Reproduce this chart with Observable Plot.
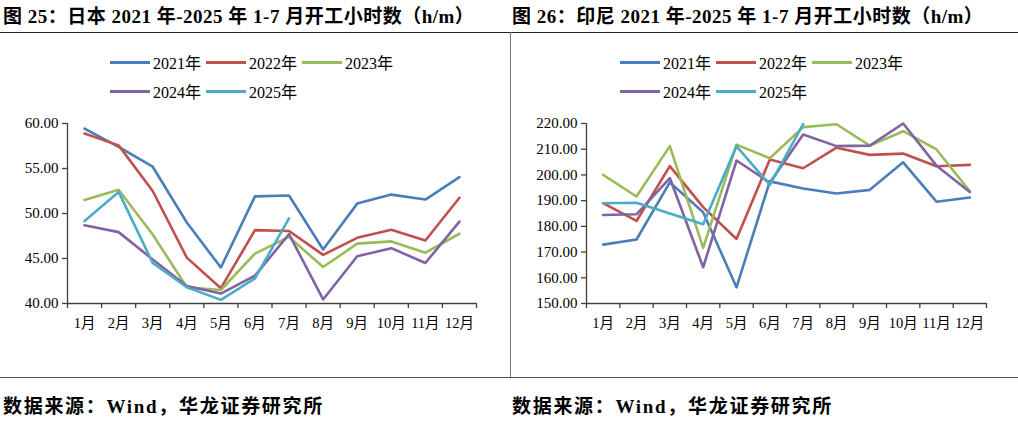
<!DOCTYPE html>
<html>
<head>
<meta charset="utf-8">
<script src="https://cdn.jsdelivr.net/npm/d3@7"></script>
<script src="https://cdn.jsdelivr.net/npm/@observablehq/plot@0.6"></script>
<style>
  html, body { margin: 0; padding: 0; background: #fff; }
  #wrap { position: relative; width: 1018px; height: 425px; overflow: hidden; background: #fff;
    font-family: "Liberation Serif", "Noto Sans CJK SC", serif; color: #000; }
  .title, .src { position: absolute; font-weight: bold; white-space: nowrap; }
  .title { top: 1px; font-size: 19px; letter-spacing: 0.5px; }
  .src { top: 391px; font-size: 19px; letter-spacing: 1.7px; }
  .hline { position: absolute; height: 0; border-top: 1px solid #222; }
  .vline { position: absolute; width: 0; border-left: 1px solid #777; }
  .plot { position: absolute; top: 33px; }
  .leg { position: absolute; font-size: 16px; white-space: nowrap; display: flex; align-items: center; }
  .leg span.sw { display: inline-block; width: 40px; height: 3px; margin-right: 3px; }
</style>
</head>
<body>
<div id="wrap"></div>
<script>
const months = ["1月","2月","3月","4月","5月","6月","7月","8月","9月","10月","11月","12月"];
const years = ["2021年","2022年","2023年","2024年","2025年"];
const colors = ["#4A7EBB","#C0504D","#9BBB59","#8064A2","#4BACC6"];

// 日本 (h/m)
const jp2021 = [59.44,57.4,55.2,49.0,44.0,51.9,52.0,46.0,51.1,52.1,51.55,54.05];
const jp2022 = [58.88,57.57,52.5,45.1,41.7,48.15,48.05,45.4,47.3,48.2,47.0,51.75];
const jp2023 = [51.5,52.63,47.67,41.8,41.5,45.55,47.4,44.05,46.65,46.9,45.65,47.75];
const jp2024 = [48.7,47.93,44.9,41.95,41.1,43.1,47.7,40.45,45.25,46.15,44.5,49.1];
const jp2025 = [49.16,52.4,44.5,41.8,40.4,42.8,49.45];

// 印尼 (h/m)
const id2021 = [172.9,174.9,197.1,185.5,156.3,197.5,194.7,192.8,194.2,204.9,189.6,191.2];
const id2022 = [189.0,182.1,203.4,187.5,175.1,206.0,202.6,210.6,207.8,208.3,203.4,203.9];
const id2023 = [200.0,191.6,211.2,171.6,211.8,206.5,218.6,219.7,211.4,217.0,209.9,193.6];
const id2024 = [184.4,184.7,198.8,164.1,205.6,197.0,215.7,211.2,211.4,220.0,203.6,193.4];
const id2025 = [189.0,189.2,185.0,180.8,211.2,196.1,219.8];

const jpTicks = [40,45,50,55,60];
const idTicks = [150,160,170,180,190,200,210,220];

function rows(series) {
  const out = [];
  series.forEach((vals, k) => vals.forEach((v, i) => out.push({year: years[k], i, v})));
  return out;
}

const font = '"Liberation Serif", "Noto Sans CJK SC", serif';

function chart({series, yTicks, width, marginLeft, marginRight}) {
  const data = rows(series);
  const centers = months.map((m, i) => i + 0.5);
  const bounds = d3.range(months.length + 1);
  return Plot.plot({
    width, height: 345,
    marginLeft, marginRight, marginTop: 90, marginBottom: 75,
    style: {fontFamily: font, fontSize: "15px", color: "#000", background: "transparent", overflow: "visible"},
    x: {type: "linear", domain: [0, months.length], axis: null},
    y: {domain: [yTicks[0], yTicks[yTicks.length - 1]], axis: null},
    color: {domain: years, range: colors},
    marks: [
      Plot.ruleX([0], {stroke: "#404040", strokeWidth: 1.3}),
      Plot.ruleY([yTicks[0]], {stroke: "#404040", strokeWidth: 1.3}),
      Plot.axisY({ticks: yTicks, tickSize: 5, tickPadding: 4, tickFormat: d3.format(".2f"), label: null, stroke: "#404040", strokeWidth: 1.3, fontSize: 15, letterSpacing: "1.6px"}),
      Plot.axisX({ticks: bounds, tickSize: 5, tickFormat: () => "", label: null, stroke: "#404040", strokeWidth: 1.3}),
      Plot.axisX({ticks: centers, tickSize: 0, tickPadding: 14, tickFormat: d => months[Math.floor(d)], label: null, fontSize: 14.5}),
      Plot.line(data, {x: d => d.i + 0.5, y: "v", z: "year", stroke: "year", strokeWidth: 2.6, strokeLinejoin: "round"})
    ]
  });
}

const wrap = document.getElementById("wrap");
function add(html) { wrap.insertAdjacentHTML("beforeend", html); }

add('<div class="title" style="left:3px">图 25：日本 2021 年-2025 年 1-7 月开工小时数（h/m）</div>');
add('<div class="title" style="left:512px">图 26：印尼 2021 年-2025 年 1-7 月开工小时数（h/m）</div>');
add('<div class="hline" style="left:0;top:32px;width:1018px"></div>');
add('<div class="vline" style="left:510px;top:32px;height:346px"></div>');
add('<div class="hline" style="left:0;top:377px;width:1018px;border-top-color:#555"></div>');
add('<div class="src" style="left:3px">数据来源：Wind，华龙证券研究所</div>');
add('<div class="src" style="left:512px">数据来源：Wind，华龙证券研究所</div>');

const left = chart({series: [jp2021, jp2022, jp2023, jp2024, jp2025], yTicks: jpTicks, width: 505, marginLeft: 67, marginRight: 29});
left.classList.add("plot"); left.style.left = "0px";
wrap.appendChild(left);
const right = chart({series: [id2021, id2022, id2023, id2024, id2025], yTicks: idTicks, width: 508, marginLeft: 76, marginRight: 32});
right.classList.add("plot"); right.style.left = "510px";
wrap.appendChild(right);

function legend(x0) {
  const pos = [[110, 60], [206, 60], [302, 60], [110, 89], [206, 89]];
  years.forEach((y, k) => {
    add(`<div class="leg" style="left:${x0 + pos[k][0]}px;top:${pos[k][1] - 10}px"><span class="sw" style="background:${colors[k]}"></span>${y}</div>`);
  });
}
legend(0);
legend(510);
</script>
</body>
</html>
